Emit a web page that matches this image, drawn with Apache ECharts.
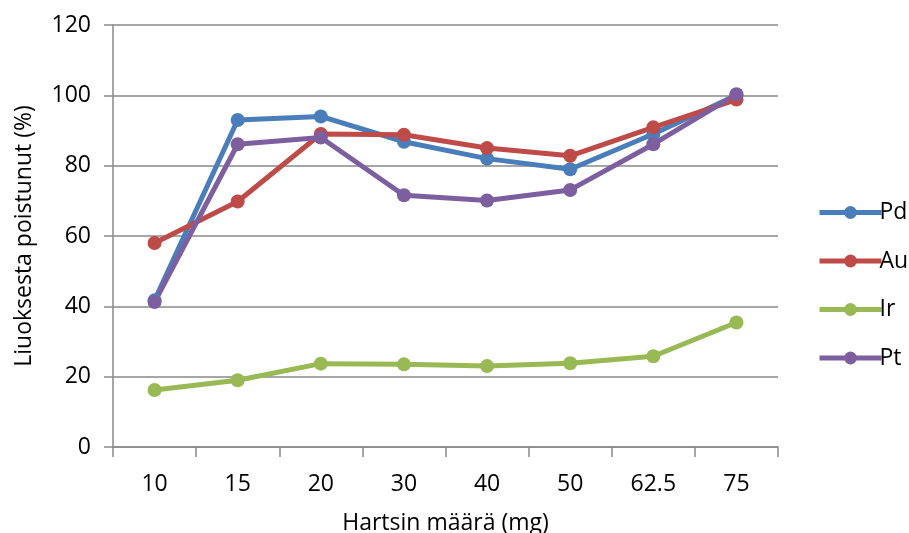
<!DOCTYPE html>
<html><head><meta charset="utf-8">
<script src="https://cdn.jsdelivr.net/npm/echarts@6/dist/echarts.min.js"></script>
<style>html,body{margin:0;padding:0;background:#fff}#c{width:909px;height:533px}</style>
</head><body><div id="c"></div>
<script>
const categories = ['10','15','20','30','40','50','62.5','75'];
const pd = [41.7, 93.0, 94.0, 86.8, 82.0, 79.0, 89.0, 100.0];
const au = [58.0, 69.8, 89.0, 88.8, 85.0, 82.8, 90.9, 98.8];
const ir = [16.2, 19.0, 23.7, 23.5, 23.0, 23.8, 25.8, 35.4];
const pt = [41.2, 86.1, 88.0, 71.6, 70.1, 73.1, 86.1, 100.3];
const yTicks = [0, 20, 40, 60, 80, 100, 120];

const FONT = 'Open Sans';
const FS = 23;
const GRAY = '#898989';
function mk(name, data, color) {
  return { name, type: 'line', data, symbol: 'circle', symbolSize: 14,
    lineStyle: { width: 5, color }, itemStyle: { color }, z: 2 };
}
const chart = echarts.init(document.getElementById('c'), null, { renderer: 'canvas' });
chart.setOption({
  animation: false,
  backgroundColor: '#fff',
  grid: { left: 113, right: 131, top: 25, bottom: 86, containLabel: false, outerBoundsMode: 'none' },
  legend: {
    orient: 'vertical', left: 812, top: 196, itemWidth: 62, itemHeight: 16, itemGap: 25.5,
    lineStyle: { width: 5 },
    textStyle: { fontFamily: FONT, fontSize: FS, color: '#000', padding: [0,0,0,-7] },
    data: ['Pd', 'Au', 'Ir', 'Pt']
  },
  xAxis: {
    type: 'category', data: categories, boundaryGap: true,
    name: 'Hartsin määrä (mg)', nameLocation: 'middle', nameGap: 65,
    nameTextStyle: { fontFamily: FONT, fontSize: FS, color: '#000' },
    axisLine: { lineStyle: { color: GRAY, width: 1.5 } },
    axisTick: { show: true, length: 10, interval: 0, lineStyle: { color: GRAY, width: 1.5 } },
    axisLabel: { fontFamily: FONT, fontSize: FS, color: '#000', margin: 26, interval: 0 }
  },
  yAxis: {
    type: 'value', min: yTicks[0], max: yTicks[yTicks.length - 1], interval: 20,
    name: 'Liuoksesta poistunut (%)', nameLocation: 'middle', nameGap: 77,
    nameTextStyle: { fontFamily: FONT, fontSize: FS, color: '#000' },
    axisLine: { show: true, lineStyle: { color: GRAY, width: 1.5 } },
    axisTick: { show: true, length: 9, lineStyle: { color: GRAY, width: 1.5 } },
    axisLabel: { fontFamily: FONT, fontSize: FS, color: '#000', margin: 22 },
    splitLine: { show: true, lineStyle: { color: GRAY, width: 1.5 } }
  },
  series: [
    mk('Pd', pd, '#4A7EBB'),
    mk('Au', au, '#BE4B48'),
    mk('Ir', ir, '#98B954'),
    mk('Pt', pt, '#7D5FA0')
  ]
});
</script></body></html>
